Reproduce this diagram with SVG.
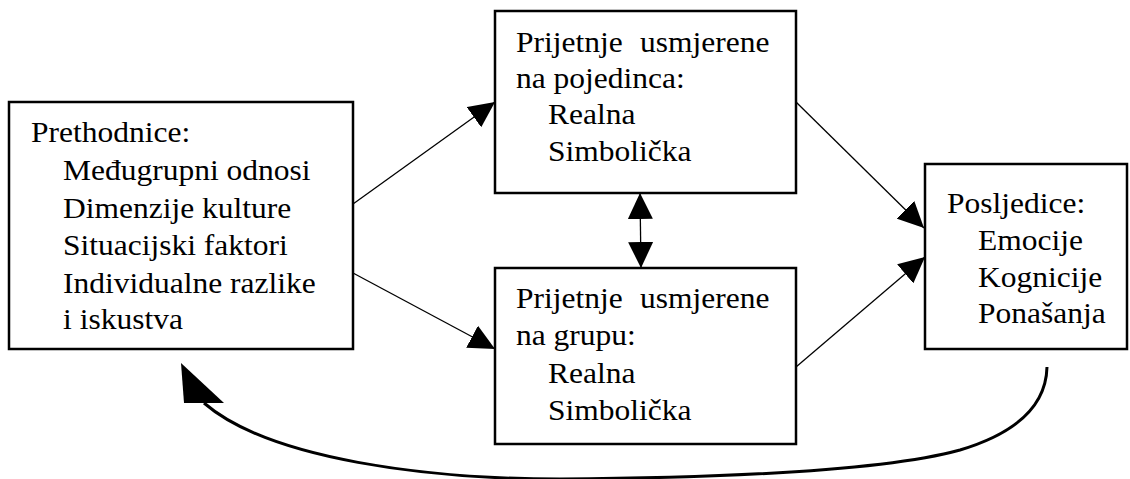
<svg xmlns="http://www.w3.org/2000/svg" width="1130" height="479" viewBox="0 0 1130 479">
<style>
.box{fill:#fff;stroke:#000;stroke-width:2.5}
.t{font-family:"Liberation Serif","Times New Roman",serif;font-size:30px;fill:#000}
.ln{stroke:#000;stroke-width:1.3;fill:none}
.cv{stroke:#000;stroke-width:3;fill:none}
</style>
<defs>
<marker id="ah" viewBox="0 0 26 25" refX="26" refY="12.5" markerWidth="26" markerHeight="25" markerUnits="userSpaceOnUse" orient="auto-start-reverse">
<path d="M0,0 L26,12.5 L0,25 Z" fill="#000"/>
</marker>
</defs>
<g id="connectors">
<line class="ln" x1="353" y1="204" x2="495" y2="102" marker-end="url(#ah)"/>
<line class="ln" x1="353" y1="273" x2="495" y2="349" marker-end="url(#ah)"/>
<line class="ln" x1="796" y1="102" x2="924" y2="228" marker-end="url(#ah)"/>
<line class="ln" x1="796" y1="367" x2="925" y2="257" marker-end="url(#ah)"/>
<line class="ln" x1="640" y1="193" x2="641" y2="268" marker-start="url(#ah)" marker-end="url(#ah)"/>
<path class="cv" d="M1047,367 C1046,410 1010,435 960,450 C880,472 700,478 560,479 C430,479 270,460 204,403"/>
<polygon points="181,363 184,403 224,403" fill="#000"/>
</g>
<g id="prethodnice">
<rect class="box" x="9" y="102" width="344" height="247"/>
<text class="t" transform="translate(31 0) scale(1.05 1)"><tspan x="0" y="142">Prethodnice:</tspan><tspan x="30.5" y="180">Međugrupni odnosi</tspan><tspan x="30.5" y="218">Dimenzije kulture</tspan><tspan x="30.5" y="255.5">Situacijski faktori</tspan><tspan x="30.5" y="293">Individualne razlike</tspan><tspan x="30.5" y="329">i iskustva</tspan></text>
</g>
<g id="prijetnje-pojedinac">
<rect class="box" x="495" y="11" width="301" height="182"/>
<text class="t" transform="translate(516 0) scale(1.05 1)"><tspan x="0" y="52">Prijetnje</tspan><tspan x="118.1" y="52">usmjerene</tspan><tspan x="0" y="88">na pojedinca:</tspan><tspan x="30.5" y="124.5">Realna</tspan><tspan x="30.5" y="161">Simbolička</tspan></text>
</g>
<g id="prijetnje-grupa">
<rect class="box" x="495" y="268" width="301" height="176"/>
<text class="t" transform="translate(516 0) scale(1.05 1)"><tspan x="0" y="308">Prijetnje</tspan><tspan x="118.1" y="308">usmjerene</tspan><tspan x="0" y="345">na grupu:</tspan><tspan x="30.5" y="383">Realna</tspan><tspan x="30.5" y="420">Simbolička</tspan></text>
</g>
<g id="posljedice">
<rect class="box" x="925" y="164" width="202" height="185"/>
<text class="t" transform="translate(947 0) scale(1.05 1)"><tspan x="0" y="213">Posljedice:</tspan><tspan x="29.5" y="250">Emocije</tspan><tspan x="29.5" y="287">Kognicije</tspan><tspan x="29.5" y="323">Ponašanja</tspan></text>
</g>
</svg>
